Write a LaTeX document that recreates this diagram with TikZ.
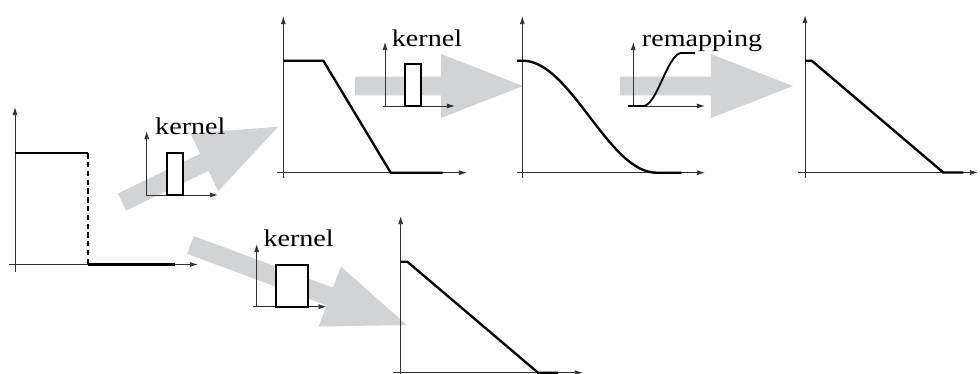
\documentclass[tikz,border=0pt]{standalone}
\usepackage{fontspec}
\setmainfont{Liberation Serif}
\usetikzlibrary{arrows.meta,calc}
\definecolor{fatgray}{RGB}{210,211,213}
\definecolor{axgray}{RGB}{50,50,50}
\newcommand\fatarr[3]{%
  \coordinate (#1h) at ($(#3)!70pt!(#2)$);
  \fill[fatgray] ($(#2)!8.1pt!90:(#3)$) -- ($(#1h)!8.1pt!90:(#3)$) -- ($(#1h)!27.3pt!90:(#3)$) -- (#3)
    -- ($(#1h)!27.3pt!-90:(#3)$) -- ($(#1h)!8.1pt!-90:(#3)$) -- ($(#2)!8.1pt!-90:(#3)$) -- cycle;}
\begin{document}
\begin{tikzpicture}[x=0.03cm,y=-0.03cm,
  ax/.style={draw=axgray,line width=0.8pt},
  axa/.style={ax,-{Latex[length=7pt,width=4.4pt]}},
  sig/.style={draw=black,line width=2pt},
  msig/.style={draw=black,line width=1.6pt},
  krect/.style={draw=black,line width=1.5pt,fill=white},
  lbl/.style={anchor=base west,inner sep=0pt,font=\fontsize{20.5}{24}\selectfont}]
\useasboundingbox (0,0) rectangle (980,374);

% big gray arrows
\coordinate (a1s) at (122,202);   \coordinate (a1e) at (278.3,126.7);
\coordinate (a2s) at (355,86);    \coordinate (a2e) at (523,86);
\coordinate (a3s) at (620,86);    \coordinate (a3e) at (793,86);
\coordinate (a4s) at (190.5,245); \coordinate (a4e) at (406.7,325);
\fatarr{a1}{a1s}{a1e}
\fatarr{a2}{a2s}{a2e}
\fatarr{a3}{a3s}{a3e}
\fatarr{a4}{a4s}{a4e}

% plot 1: step input
\draw[axa] (15,272) -- (15,107);
\draw[axa] (9,264.5) -- (198,264.5);
\draw[sig] (15,153.3) -- (88,153.3);
\draw[draw=black,line width=0.9pt,dash pattern=on 4.5pt off 3pt] (88,153.3) -- (88,264.5);
\draw[sig] (88,264.5) -- (175,264.5);

% kernel 1
\draw[axa] (146.7,196) -- (146.7,131);
\draw[axa] (146,195) -- (218,195);
\draw[krect] (167.3,153.3) rectangle (183.3,195);
\node[lbl] (k1) at (155,135) {\scalebox{1.17}[1]{kernel}};

% plot 2
\draw[axa] (283.3,178) -- (283.3,16);
\draw[axa] (277,172.7) -- (467,172.7);
\draw[sig] (283.3,60.7) -- (323.3,60.7) -- (390.7,172.7) -- (442.7,172.7);

% kernel 2
\draw[axa] (385,107) -- (385,42);
\draw[axa] (383.3,106) -- (455,106);
\draw[krect] (405,64.3) rectangle (420.7,106);
\node[lbl] (k2) at (391.7,46.7) {\scalebox{1.17}[1]{kernel}};

% plot 3
\draw[axa] (522.3,178) -- (522.3,16);
\draw[axa] (517,172.7) -- (705,172.7);
\draw[sig] (517,60.7) -- (522.3,60.7)
  -- plot[domain=0:1,samples=60] ({522.3+134.4*\x},{60.7+56*(1-cos(180*\x))})
  -- (681.7,172.7);

% remapping
\draw[axa] (633.3,107) -- (633.3,42);
\draw[axa] (628,106) -- (705,106);
\draw[msig] (628,106) -- (643,106)
  -- plot[domain=0:1,samples=40] ({643+38.7*\x},{106-26.5*(1-cos(180*\x))})
  -- (695,53);
\node[lbl] (rm) at (641.7,46.7) {\scalebox{1.17}[1]{remapping}};

% plot 4
\draw[axa] (805,178) -- (805,15);
\draw[axa] (798,172.5) -- (978,172.5);
\draw[sig] (805,60.7) -- (811.7,60.7) -- (943.3,172.5) -- (963.3,172.5);

% plot 5
\draw[axa] (400.7,374) -- (400.7,216);
\draw[axa] (393,372.7) -- (583,372.7);
\draw[sig] (400.7,261.7) -- (407.3,261.7) -- (538,372.7) -- (558,372.7);

% kernel 3
\draw[axa] (256.7,307) -- (256.7,244);
\draw[axa] (253,306.7) -- (326.7,306.7);
\draw[krect] (275.7,265) rectangle (308.3,306.7);
\node[lbl] (k3) at (263.3,246.7) {\scalebox{1.17}[1]{kernel}};
\end{tikzpicture}
\end{document}
